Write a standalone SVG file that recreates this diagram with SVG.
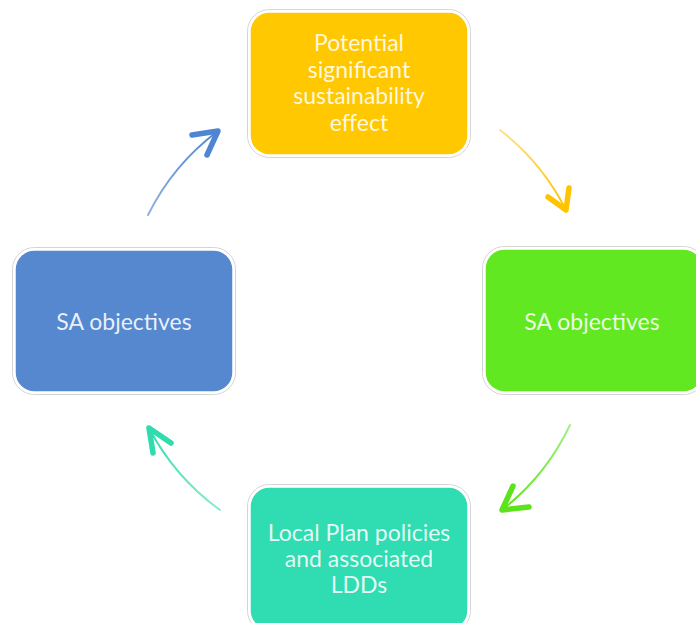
<svg xmlns="http://www.w3.org/2000/svg" width="696" height="623" viewBox="0 0 696 623">
  <defs>
    <style>
      .box { stroke: #ffffff; stroke-width: 2.5; }
      .edge { fill: none; stroke: #d4d4d4; stroke-width: 1; }
      .label { font-family: Lato, "Open Sans", "Liberation Sans", sans-serif; font-size: 23px; fill: #ffffff; fill-opacity: 0.88; text-anchor: middle; }
      .shaft { fill: none; stroke-width: 2; stroke-linecap: round; }
      .head { fill: none; stroke-width: 5.5; stroke-linecap: round; stroke-linejoin: round; }
    </style>
    <linearGradient id="gYellow" gradientUnits="userSpaceOnUse" x1="500" y1="130" x2="566" y2="210">
      <stop offset="0" stop-color="#ffe08a"/>
      <stop offset="1" stop-color="#ffc400"/>
    </linearGradient>
    <linearGradient id="gGreen" gradientUnits="userSpaceOnUse" x1="570" y1="425" x2="502" y2="510">
      <stop offset="0" stop-color="#a6ef85"/>
      <stop offset="1" stop-color="#5ee21c"/>
    </linearGradient>
    <linearGradient id="gTeal" gradientUnits="userSpaceOnUse" x1="220" y1="510" x2="149" y2="428">
      <stop offset="0" stop-color="#8debd2"/>
      <stop offset="1" stop-color="#30dcae"/>
    </linearGradient>
    <linearGradient id="gBlue" gradientUnits="userSpaceOnUse" x1="148" y1="215" x2="218" y2="131">
      <stop offset="0" stop-color="#8fb1e2"/>
      <stop offset="1" stop-color="#4f86d4"/>
    </linearGradient>
  </defs>

  <rect width="696" height="623" fill="#ffffff"/>

  <!-- connectors: arcs around the cycle centre -->
  <g id="connectors">
    <g id="arrow-top-right">
      <path class="shaft" stroke="url(#gYellow)" d="M500,130 A236,236 0 0 1 566,210"/>
      <path class="head" stroke="#ffc400" d="M548,197 L566,210 L569,188"/>
    </g>
    <g id="arrow-bottom-right">
      <path class="shaft" stroke="url(#gGreen)" d="M570,425 A236,236 0 0 1 502,510"/>
      <path class="head" stroke="#5ee21c" d="M513,486 L502,510 L529,507"/>
    </g>
    <g id="arrow-bottom-left">
      <path class="shaft" stroke="url(#gTeal)" d="M220,510 A236,236 0 0 1 149,428"/>
      <path class="head" stroke="#30dcae" d="M153,453 L149,428 L171,443"/>
    </g>
    <g id="arrow-top-left">
      <path class="shaft" stroke="url(#gBlue)" d="M148,215 A236,236 0 0 1 218,131"/>
      <path class="head" stroke="#4f86d4" d="M192,135 L218,131 L207,155"/>
    </g>
  </g>

  <g id="node-effect">
    <rect class="edge" x="247.5" y="9.5" width="223" height="148" rx="22"/>
    <rect class="box" x="249.5" y="11.5" width="219" height="144" rx="20" fill="#ffc800"/>
    <text class="label" x="359" y="51">Potential</text>
    <text class="label" x="359" y="77.5">significant</text>
    <text class="label" x="359" y="104">sustainability</text>
    <text class="label" x="359" y="130.5">effect</text>
  </g>

  <g id="node-objectives-right">
    <rect class="edge" x="482.5" y="246.5" width="223" height="148" rx="22"/>
    <rect class="box" x="484.5" y="248.5" width="219" height="144" rx="20" fill="#62e820"/>
    <text class="label" x="592" y="330">SA objectives</text>
  </g>

  <g id="node-policies">
    <rect class="edge" x="247.5" y="484.5" width="223" height="148" rx="22"/>
    <rect class="box" x="249.5" y="486.5" width="219" height="144" rx="20" fill="#30dcb1"/>
    <text class="label" x="359" y="541">Local Plan policies</text>
    <text class="label" x="359" y="567">and associated</text>
    <text class="label" x="359" y="593">LDDs</text>
  </g>

  <g id="node-objectives-left">
    <rect class="edge" x="12.5" y="247.5" width="223" height="147" rx="22"/>
    <rect class="box" x="14.5" y="249.5" width="219" height="143" rx="20" fill="#5588cf"/>
    <text class="label" x="124" y="330">SA objectives</text>
  </g>
</svg>
